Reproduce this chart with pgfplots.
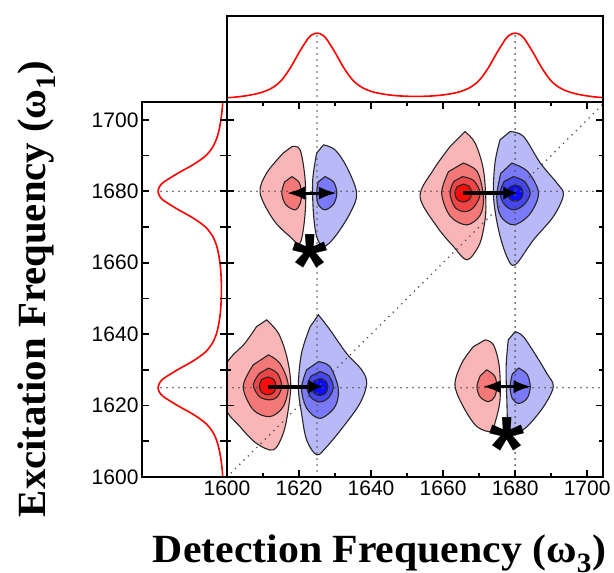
\documentclass[border=0pt]{standalone}
\usepackage{pgfplots}
\pgfplotsset{compat=1.18}
\usepackage{pgfplotstable}
\usetikzlibrary{arrows.meta}
\usepackage{fontspec}
\setmainfont{Liberation Serif}
\newfontfamily\tickfont{Liberation Sans}
\definecolor{rA}{RGB}{250,182,182}
\definecolor{rB}{RGB}{245,120,120}
\definecolor{rC}{RGB}{238,70,70}
\definecolor{rD}{RGB}{255,10,10}
\definecolor{bA}{RGB}{185,185,248}
\definecolor{bB}{RGB}{122,122,248}
\definecolor{bC}{RGB}{70,70,242}
\definecolor{bD}{RGB}{10,10,255}
\definecolor{dotc}{RGB}{80,80,80}
\pgfplotstableread{
w h
1600 0.048
1602.5 0.056
1605 0.069
1607.5 0.087
1610 0.114
1612.5 0.159
1615 0.240
1617.5 0.380
1620 0.560
1622.5 0.720
1623.75 0.765
1625 0.781
1626.25 0.765
1627.5 0.722
1630 0.562
1632.5 0.383
1635 0.244
1637.5 0.165
1640 0.121
1642.5 0.096
1645 0.080
1647.5 0.070
1650 0.065
1652.5 0.063
1655 0.065
1657.5 0.070
1660 0.080
1662.5 0.096
1665 0.121
1667.5 0.165
1670 0.244
1672.5 0.383
1675 0.562
1677.5 0.722
1678.75 0.765
1680 0.781
1681.25 0.765
1682.5 0.721
1685 0.560
1687.5 0.380
1690 0.239
1692.5 0.159
1695 0.114
1697.5 0.087
1700 0.069
1702.5 0.056
1705 0.048
}\spec
\pgfplotsset{
  panel/.style={scale only axis, axis line style={line width=2.2pt},
    tick style={line width=1.6pt, black}, tick align=inside,
    major tick length=7pt, minor tick length=7pt, axis on top,
    /pgf/number format/1000 sep={}, /pgf/number format/assume math mode=true,
    tick label style={font=\tickfont\fontsize{21}{24}\selectfont}},
  dotl/.style={dotc, line width=1.8pt, line cap=round, dash pattern=on 0pt off 6pt},
  cont/.style={smooth, tension=0.55, draw=black!85, line width=1.1pt},
}
\begin{document}
\begin{tikzpicture}[x=1pt,y=1pt]
\useasboundingbox (0,0) rectangle (614,573);
% top panel
\begin{axis}[panel, at={(227pt,471pt)}, anchor=south west, width=376pt, height=86pt,
  xmin=1600, xmax=1704.4, ymin=0, ymax=0.975, xtick=\empty, ytick=\empty]
\addplot[dotl] coordinates {(1625,0) (1625,0.78)};
\addplot[dotl] coordinates {(1680,0) (1680,0.78)};
\addplot[red, line width=1.6pt, smooth] table[x=w, y=h] {\spec};
\end{axis}
% left panel
\begin{axis}[panel, at={(142pt,96pt)}, anchor=south west, width=85pt, height=375pt,
  xmin=0, xmax=0.963, x dir=reverse, ymin=1600, ymax=1705, xtick=\empty,
  ytick={1600,1620,...,1700}, minor ytick={1610,1630,...,1690}]
\addplot[dotl] coordinates {(0,1625) (0.78,1625)};
\addplot[dotl] coordinates {(0,1680) (0.78,1680)};
\addplot[red, line width=1.6pt, smooth] table[x=h, y=w] {\spec};
\end{axis}
% main 2D panel
\begin{axis}[panel, at={(227pt,96pt)}, anchor=south west, width=376pt, height=375pt,
  xmin=1600, xmax=1704.4, ymin=1600, ymax=1705,
  xtick={1600,1620,...,1700}, minor xtick={1610,1630,...,1690},
  ytick={1600,1620,...,1700}, minor ytick={1610,1630,...,1690},
  yticklabels={}, minor tick length=4pt]
% ---- diagonal peak 1625 : red lobe
\addplot[cont, fill=rA] coordinates {(1611.0,1644.0) (1614.3,1640.2) (1616.6,1633.7) (1617.7,1626.2) (1617.0,1618.8) (1615.6,1612.2) (1612.9,1607.6) (1608.2,1609.4) (1603.6,1614.1) (1599.5,1619.7) (1599.5,1630.9) (1605.0,1637.5) (1608.2,1642.1)} --cycle;
\addplot[cont, fill=rB] coordinates {(1611.5,1634.2) (1614.7,1631.8) (1617.0,1625.8) (1615.6,1619.7) (1611.9,1616.9) (1607.3,1618.8) (1604.5,1625.3) (1607.3,1631.4)} --cycle;
\addplot[cont, fill=rC] coordinates {(1611.5,1630.5) (1614,1629) (1615.2,1625.5) (1614,1622.5) (1611.9,1621.6) (1609,1622.5) (1607.3,1625.8) (1609,1629)} --cycle;
\addplot[cont, fill=rD] coordinates {(1611.3,1628) (1613,1627.3) (1613.6,1625.5) (1613,1623.7) (1611.3,1623) (1609.6,1623.7) (1609,1625.5) (1609.6,1627.3)} --cycle;
% ---- diagonal peak 1625 : blue lobe
\addplot[cont, fill=bA] coordinates {(1625.4,1645.4) (1628.6,1641.2) (1633.2,1634.6) (1637.4,1630.0) (1638.8,1626.2) (1636.9,1620.6) (1632.3,1614.1) (1627.7,1608.5) (1624.9,1606.2) (1622.1,1610.4) (1620.7,1617.8) (1619.8,1625.3) (1620.7,1634.7) (1623.1,1642.1)} --cycle;
\addplot[cont, fill=bB] coordinates {(1625.4,1632.3) (1628.6,1630.9) (1630.9,1624.8) (1630,1619.7) (1625.8,1616.4) (1622.1,1619.3) (1620.7,1624.8) (1622.1,1630.0)} --cycle;
\addplot[cont, fill=bC] coordinates {(1625.8,1629.5) (1628.3,1628.3) (1629.5,1625.2) (1628.3,1622.3) (1625.8,1621) (1623.3,1622.3) (1622.2,1625.2) (1623.3,1628.2)} --cycle;
\addplot[cont, fill=bD] coordinates {(1625.8,1627.6) (1627.4,1626.9) (1628,1625.2) (1627.4,1623.5) (1625.8,1622.8) (1624.2,1623.5) (1623.6,1625.2) (1624.2,1626.9)} --cycle;
% ---- diagonal peak 1680 : red lobe
\addplot[cont, fill=rA] coordinates {(1666.1,1696.7) (1668.9,1693.5) (1671.2,1686.0) (1671.9,1675.7) (1671.2,1669.2) (1669.8,1664.5) (1666.6,1660.8) (1662.9,1664.5) (1658.3,1670.1) (1653.6,1678.5) (1657.3,1686.0) (1661.9,1692.5)} --cycle;
\addplot[cont, fill=rB] coordinates {(1665.6,1687.9) (1669.5,1685.5) (1671.2,1678.5) (1670.3,1673.3) (1666.6,1670.6) (1662,1673) (1659.6,1679.5) (1661.5,1685.5)} --cycle;
\addplot[cont, fill=rC] coordinates {(1665.4,1684.1) (1668.5,1683) (1670.3,1679.3) (1668.5,1675.5) (1666,1674.3) (1663.3,1675.5) (1661.9,1679.5) (1663,1682.8)} --cycle;
\addplot[cont, fill=rD] coordinates {(1665.6,1682) (1667.3,1681.3) (1667.9,1679.5) (1667.3,1677.7) (1665.6,1677) (1663.9,1677.7) (1663.3,1679.5) (1663.9,1681.3)} --cycle;
% ---- diagonal peak 1680 : blue lobe
\addplot[cont, fill=bA] coordinates {(1678.6,1696.7) (1682.3,1695.4) (1687.0,1687.9) (1691.6,1682.3) (1693.4,1679.0) (1690.6,1672.9) (1685.1,1666.4) (1680.0,1659.4) (1677.7,1661.7) (1675.4,1669.2) (1674.0,1678.5) (1674.4,1687.9) (1675.8,1694.4)} --cycle;
\addplot[cont, fill=bB] coordinates {(1679.1,1687.9) (1683.5,1685.5) (1686.5,1679.5) (1684,1673.5) (1679.6,1670.6) (1676,1673) (1674.9,1678.5) (1676,1685)} --cycle;
\addplot[cont, fill=bC] coordinates {(1679.6,1684.1) (1682.5,1682.8) (1684.2,1679.5) (1682.5,1676.3) (1679.6,1674.8) (1677,1676.3) (1675.8,1679.5) (1677,1682.8)} --cycle;
\addplot[cont, fill=bD] coordinates {(1680,1681.8) (1681.6,1681.1) (1682.2,1679.5) (1681.6,1677.9) (1680,1677.2) (1678.4,1677.9) (1677.8,1679.5) (1678.4,1681.1)} --cycle;
% ---- cross peak (1625,1680)
\addplot[cont, fill=rA] coordinates {(1618.0,1692.5) (1620.3,1691.6) (1621.7,1683.2) (1621.7,1673.9) (1620.3,1665.5) (1617.5,1667.3) (1612.9,1672.0) (1609.2,1679.5) (1611.0,1685.1) (1615.6,1690.7)} --cycle;
\addplot[cont, fill=rB] coordinates {(1618,1684.1) (1620,1682.5) (1620.7,1679.5) (1620.3,1676.5) (1618.9,1674.8) (1616.3,1676.3) (1615.2,1679.5) (1616,1682.6)} --cycle;
\addplot[cont, fill=bA] coordinates {(1626.8,1693.0) (1630.0,1691.6) (1633.2,1686.9) (1636.0,1679.5) (1634.2,1673.9) (1630.0,1667.3) (1626.8,1664.5) (1624.9,1667.3) (1624.0,1673.9) (1623.8,1683.2) (1624.9,1690.7)} --cycle;
\addplot[cont, fill=bB] coordinates {(1627.2,1684.1) (1629.6,1682.6) (1630.5,1679.5) (1629.6,1676.4) (1627.2,1674.8) (1625.3,1676.4) (1624.9,1679.5) (1625.3,1682.6)} --cycle;
% ---- cross peak (1680,1625)
\addplot[cont, fill=rA] coordinates {(1671.7,1638.4) (1674.0,1637.0) (1675.6,1630.9) (1675.8,1621.6) (1674.4,1615.1) (1673.5,1612.7) (1669.4,1614.1) (1665.6,1619.7) (1663.3,1625.8) (1665.2,1631.9) (1668.4,1636.5)} --cycle;
\addplot[cont, fill=rB] coordinates {(1672.1,1630) (1674.3,1628.3) (1674.9,1625.3) (1674.3,1622.4) (1672.6,1621.1) (1670.3,1622.4) (1669.4,1625.3) (1670.3,1628.3)} --cycle;
\addplot[cont, fill=bA] coordinates {(1680.0,1640.7) (1682.3,1639.3) (1686.0,1633.7) (1688.8,1629.0) (1690.6,1625.3) (1687.9,1619.7) (1683.3,1614.1) (1680.0,1612.2) (1678.1,1614.1) (1677.7,1621.6) (1677.5,1630.9) (1678.1,1638.4)} --cycle;
\addplot[cont, fill=bB] coordinates {(1681,1630.5) (1683.3,1628.8) (1684.2,1625.3) (1683.3,1622) (1681,1620.6) (1679.2,1622) (1678.6,1625.3) (1679.2,1628.8)} --cycle;
% ---- dotted guide lines
\addplot[dotl] coordinates {(1625,1600) (1625,1705)};
\addplot[dotl] coordinates {(1680,1600) (1680,1705)};
\addplot[dotl] coordinates {(1600,1625) (1704.4,1625)};
\addplot[dotl] coordinates {(1600,1680) (1704.4,1680)};
\addplot[dotl] coordinates {(1600,1600) (1705,1705)};
% ---- arrows
\addplot[black, line width=4pt, -{Latex[length=14pt,width=14pt]}] coordinates {(1611.5,1625.3) (1626.5,1625.3)};
\addplot[black, line width=4pt, -{Latex[length=14pt,width=14pt]}] coordinates {(1665.6,1679.5) (1680.6,1679.5)};
\addplot[black, line width=3pt, {Latex[length=18pt,width=13pt]}-{Latex[length=18pt,width=13pt]}] coordinates {(1616.6,1679.5) (1630.5,1679.5)};
\addplot[black, line width=3pt, {Latex[length=18pt,width=13pt]}-{Latex[length=18pt,width=13pt]}] coordinates {(1671.0,1625.3) (1684.6,1625.3)};
% ---- asterisks
\addplot[only marks, mark=text, text mark={\tickfont\bfseries\raisebox{-0.478em}[0.15em][0.15em]{*}}, text mark as node=true,
  text mark style={font=\fontsize{90}{90}\selectfont, inner sep=0pt}] coordinates {(1623.1,1662.7) (1677.7,1611.3)};
\end{axis}
\node[rotate=90, anchor=base, inner sep=0pt, font=\bfseries\fontsize{40}{42}\selectfont] at (46,284) {\scalebox{1.02}[1]{Excitation Frequency (ω\textsubscript{1})}};
\node[anchor=base, inner sep=0pt, font=\bfseries\fontsize{40}{42}\selectfont] at (379.5,10) {\scalebox{1.044}[1]{Detection Frequency (ω\textsubscript{3})}};
\end{tikzpicture}
\end{document}
